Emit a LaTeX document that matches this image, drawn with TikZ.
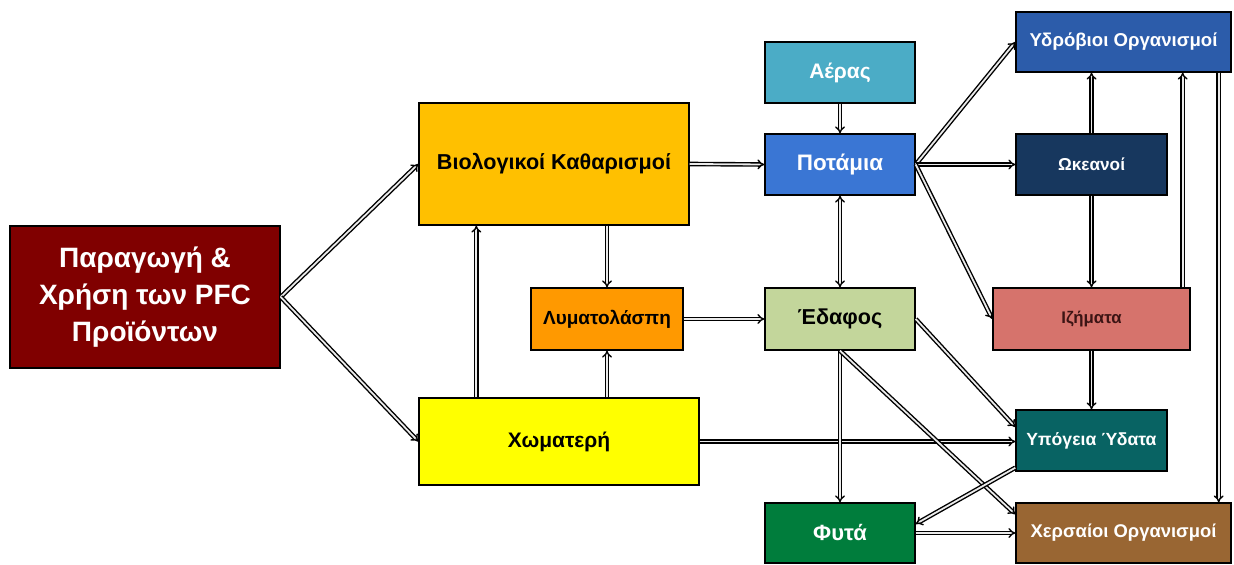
\documentclass[tikz,border=0pt]{standalone}
\usepackage{fontspec}
\setmainfont{Liberation Sans}
\usepackage{tikz}
\usetikzlibrary{arrows.meta}
\definecolor{PFCBoxColor0}{RGB}{128,0,0}
\definecolor{PFCBoxColor1}{RGB}{255,192,0}
\definecolor{PFCBoxColor2}{RGB}{255,255,0}
\definecolor{PFCBoxColor3}{RGB}{255,153,0}
\definecolor{PFCBoxColor4}{RGB}{75,172,198}
\definecolor{PFCBoxColor5}{RGB}{58,118,212}
\definecolor{PFCBoxColor6}{RGB}{195,214,155}
\definecolor{PFCBoxColor7}{RGB}{0,125,60}
\definecolor{PFCBoxColor8}{RGB}{44,92,170}
\definecolor{PFCBoxColor9}{RGB}{23,55,94}
\definecolor{PFCBoxColor10}{RGB}{214,115,108}
\definecolor{PFCBoxColor11}{RGB}{8,99,99}
\definecolor{PFCBoxColor12}{RGB}{153,102,51}
\definecolor{PFCTextDark}{RGB}{60,20,20}
\newlength\pxunit
\setlength\pxunit{0.5pt}

\begin{document}
\begin{tikzpicture}[x=1\pxunit,y=-1\pxunit,box/.style n args={4}{fill=#1,text=#2,minimum width=#3\pxunit,minimum height=#4\pxunit,draw=black,line width=0.7pt,inner sep=0pt,align=center},flow/.style={double=white!92!black,double distance=0.9pt,line width=0.7pt,-{Implies}}]
\useasboundingbox (0,0) rectangle (1234,565);
   \node[box={PFCBoxColor0}{white}{270}{142},font=\bfseries\fontsize{14}{18.5}\selectfont](prod) at(145,297) {Παραγωγή \&\\Χρήση των PFC\\Προϊόντων};
   \node[box={PFCBoxColor1}{black}{270}{122},font=\bfseries\fontsize{10.8}{13}\selectfont](bio) at(554,164) {Βιολογικοί Καθαρισμοί};
   \node[box={PFCBoxColor2}{black}{280}{87},font=\bfseries\fontsize{10.5}{13}\selectfont](landfill) at(559,441.5) {Χωματερή};
   \node[box={PFCBoxColor3}{black}{152}{62},font=\bfseries\fontsize{9.5}{12}\selectfont](sludge) at(607,319) {Λυματολάσπη};
   \node[box={PFCBoxColor4}{white}{150}{61},font=\bfseries\fontsize{10.5}{12}\selectfont](air) at(840,72.5) {Αέρας};
   \node[box={PFCBoxColor5}{white}{150}{61},font=\bfseries\fontsize{11.2}{13}\selectfont](river) at(840,164.5) {Ποτάμια};
   \node[box={PFCBoxColor6}{black}{150}{62},font=\bfseries\fontsize{10.8}{13}\selectfont](soil) at(840,319) {Έδαφος};
   \node[box={PFCBoxColor7}{white}{150}{60},font=\bfseries\fontsize{11}{12}\selectfont](plants) at(840,533) {Φυτά};
   \node[box={PFCBoxColor8}{white}{215}{60},font=\bfseries\fontsize{9.3}{11}\selectfont](aquatic) at(1123.5,42) {Υδρόβιοι Οργανισμοί};
   \node[box={PFCBoxColor9}{white}{151}{61},font=\bfseries\fontsize{8.6}{11}\selectfont](oceans) at(1091.5,164.5) {Ωκεανοί};
   \node[box={PFCBoxColor10}{PFCTextDark}{197}{62},font=\bfseries\fontsize{8.4}{11}\selectfont](sediments) at(1091.5,319) {Ιζήματα};
   \node[box={PFCBoxColor11}{white}{151}{61},font=\bfseries\fontsize{8.8}{11}\selectfont](groundwater) at(1091.5,440.5) {Υπόγεια Ύδατα};
   \node[box={PFCBoxColor12}{white}{215}{60},font=\bfseries\fontsize{9.2}{11}\selectfont](terrestrial) at(1123.5,533) {Χερσαίοι Οργανισμοί};
% sources
\draw[flow] (prod.east) -- (bio.west);
\draw[flow] (prod.east) -- (landfill.west);
\draw[flow] (bio.east) -- (river.west);
\draw[flow] (bio.south -| sludge.north) -- (sludge.north);
\draw[flow] ([xshift=29pt]landfill.north west) -- ([xshift=29pt]bio.south west);
\draw[flow] (landfill.north -| sludge.south) -- (sludge.south);
\draw[flow] (sludge.east) -- (soil.west);
\draw[flow] (landfill.east) -- (landfill.east -| groundwater.west);
% air, water, soil
\draw[flow] (air) -- (river);
\draw[flow,{Implies}-{Implies}] (river) -- (soil);
\draw[flow] (river.east) -- (aquatic.west);
\draw[flow] (river.east) -- (oceans.west);
\draw[flow] (river.east) -- (sediments.west);
\draw[flow] (oceans.north) -- (oceans.north |- aquatic.south);
\draw[flow] (oceans.south) -- (oceans.south |- sediments.north);
\draw[flow] ([xshift=-4pt]sediments.north east) -- ([xshift=-4pt]sediments.north east |- aquatic.south);
\draw[flow] ([xshift=-6.5pt]aquatic.south east) -- ([xshift=-6.5pt]terrestrial.north east);
\draw[flow] (sediments) -- (groundwater);
\draw[flow] (soil.east) -- ([yshift=6.75pt]groundwater.west);
\draw[flow] (soil) -- (plants);
\draw[flow] (soil.south) -- ([yshift=-6pt]terrestrial.north west);
\draw[flow] ([yshift=2pt]groundwater.south west) -- ([yshift=4.5pt]plants.east);
\draw[flow] (plants) -- (terrestrial);
\end{tikzpicture}
\end{document}
